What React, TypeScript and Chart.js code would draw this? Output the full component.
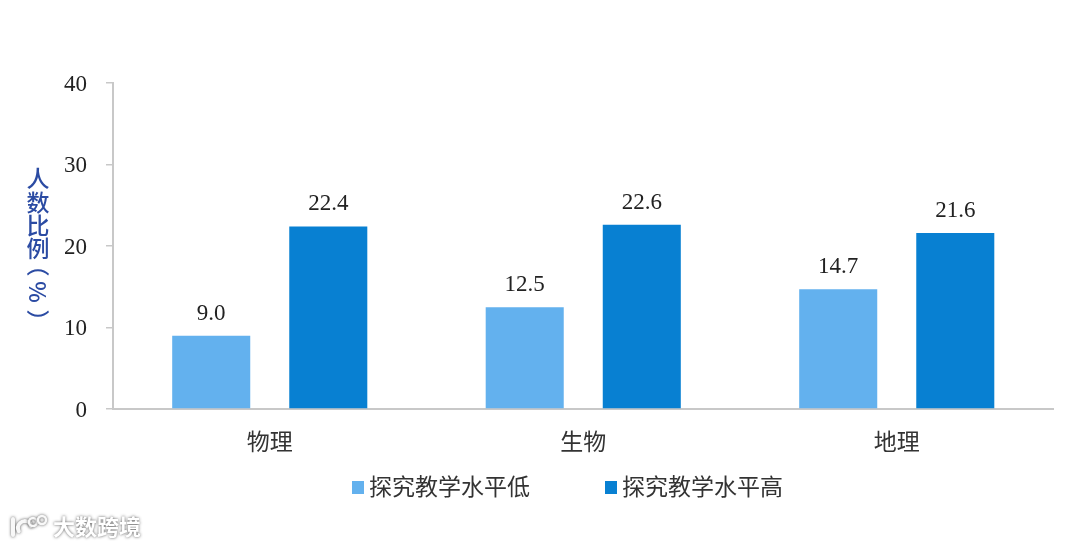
import React, { useEffect, useRef } from "react";
import { Chart, registerables } from "chart.js";

Chart.register(...registerables);

const categories = ["物理", "生物", "地理"];
const lowSeries = [9.0, 12.5, 14.7];
const highSeries = [22.4, 22.6, 21.6];
const seriesNames = ["探究教学水平低", "探究教学水平高"];
const seriesColors = ["#63B1EE", "#0880D2"];
const yTicks = [0, 10, 20, 30, 40];
const yTitleChars = ["人", "数", "比", "例"];
const yTitleRotated = ["（", "%", "）"];
const watermark = "大数跨境";

const CJK = '"Noto Sans CJK SC", "Noto Sans", sans-serif';
const SERIF = '"Liberation Serif", serif';

const overlayPlugin = {
  id: "overlay",
  beforeDraw(chart: any) {
    const items = chart.scales.y.getLabelItems();
    if (!items.__shifted) {
      items.forEach((it: any) => {
        it.options.translation = [it.options.translation[0], it.options.translation[1] + 1.5];
      });
      items.__shifted = true;
    }
  },
  afterDatasetsDraw(chart: any) {
    const { ctx } = chart;
    ctx.save();
    // value labels
    ctx.font = `23px ${SERIF}`;
    ctx.fillStyle = "#222222";
    ctx.textAlign = "center";
    ctx.textBaseline = "middle";
    chart.data.datasets.forEach((ds: any, i: number) => {
      chart.getDatasetMeta(i).data.forEach((bar: any, j: number) => {
        ctx.fillText(Number(ds.data[j]).toFixed(1), bar.x, bar.y - 22);
      });
    });
    // y title, stacked
    ctx.font = `500 23px ${CJK}`;
    ctx.fillStyle = "#2B4BA3";
    const titleYs = [178, 202, 225, 248];
    yTitleChars.forEach((c, i) => ctx.fillText(c, 38, titleYs[i]));
    const rotYs = [265, 292, 321];
    yTitleRotated.forEach((c, i) => {
      ctx.save();
      ctx.translate(38, rotYs[i]);
      ctx.rotate(Math.PI / 2);
      ctx.fillText(c, 0, 0);
      ctx.restore();
    });
    // legend
    const legendXs = [352, 605];
    seriesNames.forEach((name, i) => {
      ctx.fillStyle = seriesColors[i];
      ctx.fillRect(legendXs[i], 481, 12, 13);
      ctx.fillStyle = "#333333";
      ctx.font = `23px ${CJK}`;
      ctx.textAlign = "left";
      ctx.fillText(name, legendXs[i] + 17, 486);
    });
    // watermark
    ctx.save();
    ctx.shadowColor = "rgba(70,70,70,0.9)";
    ctx.shadowBlur = 3;
    ctx.fillStyle = "#ffffff";
    ctx.font = `bold 22px ${CJK}`;
    ctx.fillText(watermark, 53, 527);
    ctx.strokeStyle = "#f8f8f8";
    ctx.lineWidth = 4;
    ctx.lineCap = "round";
    ctx.beginPath();
    ctx.moveTo(13, 519);
    ctx.lineTo(13, 535);
    ctx.moveTo(31, 526);
    ctx.arc(25, 528, 7, -Math.PI / 4, Math.PI * 0.85, true);
    ctx.stroke();
    ctx.lineWidth = 2.5;
    ctx.beginPath();
    ctx.arc(33, 522, 4, 0, Math.PI * 2);
    ctx.stroke();
    ctx.beginPath();
    ctx.arc(42, 520, 4, 0, Math.PI * 2);
    ctx.stroke();
    ctx.restore();
    ctx.restore();
  },
};

export default function App() {
  const ref = useRef<HTMLCanvasElement>(null);
  useEffect(() => {
    const chart = new Chart(ref.current!, {
      type: "bar",
      data: {
        labels: categories,
        datasets: [
          { label: seriesNames[0], data: lowSeries, backgroundColor: seriesColors[0] },
          { label: seriesNames[1], data: highSeries, backgroundColor: seriesColors[1] },
        ],
      },
      options: {
        responsive: false,
        animation: false,
        devicePixelRatio: 1,
        layout: { padding: { left: 0, top: 83, right: 26.5, bottom: 0 } },
        datasets: { bar: { categoryPercentage: 0.7468, barPercentage: 0.6667 } },
        plugins: { legend: { display: false }, title: { display: false }, tooltip: { enabled: false } },
        scales: {
          x: {
            afterFit: (s: any) => { s.height = 138; },
            border: { color: "#C8C8C8", width: 2 },
            grid: { display: false },
            ticks: { color: "#333333", font: { family: CJK, size: 23 }, padding: 10, maxRotation: 0 },
          },
          y: {
            min: 0,
            max: 40,
            afterFit: (s: any) => { s.width = 113; },
            afterBuildTicks: (s: any) => { s.ticks = yTicks.map((value) => ({ value })); },
            border: { color: "#C8C8C8", width: 2 },
            grid: { drawOnChartArea: false, color: "#C8C8C8", tickLength: 7, lineWidth: 1.5 },
            ticks: { color: "#222222", font: { family: SERIF, size: 23 }, padding: 19 },
          },
        },
      } as any,
      plugins: [overlayPlugin],
    });
    return () => chart.destroy();
  }, []);
  return (
    <div style={{ position: "absolute", left: 0, top: 0, width: 1080, height: 547, background: "#fff" }}>
      <canvas ref={ref} width={1080} height={547} style={{ display: "block" }} />
    </div>
  );
}
